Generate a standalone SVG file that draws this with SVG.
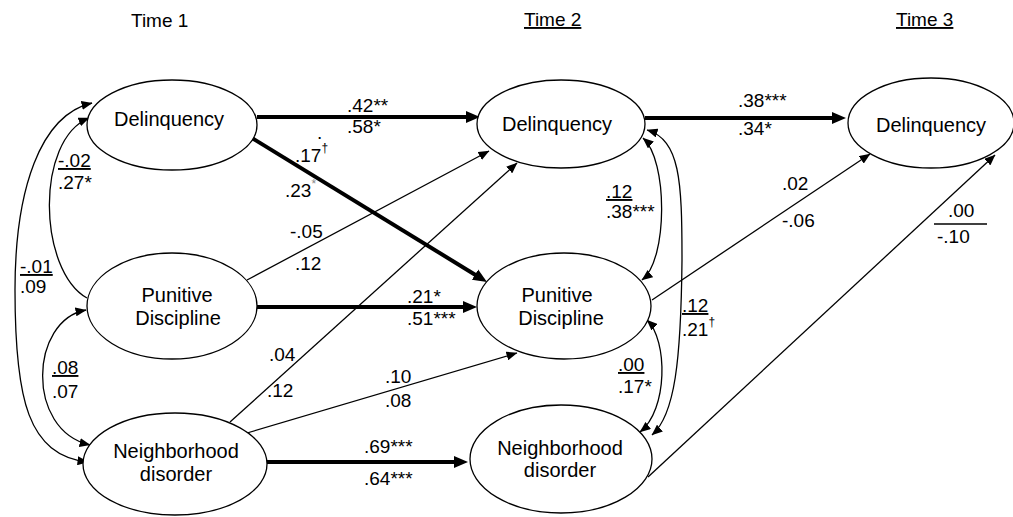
<svg xmlns="http://www.w3.org/2000/svg" width="1013" height="517" viewBox="0 0 1013 517">
<style>
  text { font-family: "Liberation Sans", Arial, sans-serif; fill: #000; }
  .node ellipse { fill: #fff; stroke: #000; stroke-width: 1.3; }
  .lbl { font-size: 20px; text-anchor: middle; }
  .num { font-size: 19px; }
  .time { font-size: 19px; }
  .ul { text-decoration: underline; }
  .sup { font-size: 12px; }
  .thin { fill: none; stroke: #000; stroke-width: 1.3; }
  .thick { fill: none; stroke: #000; stroke-width: 4; }
  .bar { stroke: #000; stroke-width: 1.3; }
</style>
<defs>
  <marker id="ahThick" markerUnits="userSpaceOnUse" viewBox="0 0 14 14" markerWidth="14" markerHeight="14" refX="1" refY="7" orient="auto">
    <path d="M0,1 L14,7 L0,13 z" fill="#000"/>
  </marker>
  <marker id="ahThin" markerUnits="userSpaceOnUse" viewBox="0 0 11 9" markerWidth="11" markerHeight="9" refX="10.5" refY="4.5" orient="auto-start-reverse">
    <path d="M0,0 L11,4.5 L0,9 z" fill="#000"/>
  </marker>
</defs>

<g id="time-labels">
  <text class="time" x="131" y="27">Time 1</text>
  <text class="time ul" x="524" y="26">Time 2</text>
  <text class="time ul" x="896" y="26">Time 3</text>
</g>

<g id="connectors">
  <!-- structural paths -->
  <line class="thick" x1="257" y1="117" x2="467" y2="117" marker-end="url(#ahThick)"/>
  <line class="thick" x1="252" y1="138" x2="475.9" y2="275.2" marker-end="url(#ahThick)"/>
  <line class="thin" x1="247" y1="280" x2="489" y2="151" marker-end="url(#ahThin)"/>
  <line class="thick" x1="257" y1="307" x2="464" y2="307" marker-end="url(#ahThick)"/>
  <line class="thin" x1="230" y1="422" x2="517" y2="163" marker-end="url(#ahThin)"/>
  <line class="thin" x1="247" y1="433" x2="517" y2="353" marker-end="url(#ahThin)"/>
  <line class="thick" x1="267" y1="462" x2="455" y2="462" marker-end="url(#ahThick)"/>
  <line class="thick" x1="645" y1="118" x2="833" y2="118" marker-end="url(#ahThick)"/>
  <line class="thin" x1="652" y1="300" x2="870" y2="154" marker-end="url(#ahThin)"/>
  <line class="thin" x1="648" y1="477" x2="995" y2="155" marker-end="url(#ahThin)"/>
  <!-- correlations -->
  <path class="thin" d="M87,298 C38,270 35,140 89,118" marker-end="url(#ahThin)"/>
  <path class="thin" d="M92,103 C40,115 15,190 15,290 C15,400 28,455 88,462" marker-start="url(#ahThin)" marker-end="url(#ahThin)"/>
  <path class="thin" d="M86,310 C30,320 25,430 90,445" marker-start="url(#ahThin)" marker-end="url(#ahThin)"/>
  <path class="thin" d="M643,138 C668,160 668,260 642,280" marker-start="url(#ahThin)" marker-end="url(#ahThin)"/>
  <path class="thin" d="M647,130 C680,140 682,180 682,260 C681,360 675,415 652,435" marker-start="url(#ahThin)" marker-end="url(#ahThin)"/>
  <path class="thin" d="M647,320 C668,340 668,410 640,432" marker-start="url(#ahThin)" marker-end="url(#ahThin)"/>
</g>

<g id="edge-labels">
  <text class="num" x="347" y="112">.42**</text>
  <text class="num" x="347" y="133">.58*</text>
  <text class="num" x="317" y="139" font-size="12">.</text>
  <text class="num" x="295" y="162">.17<tspan class="sup" dy="-10">†</tspan></text>
  <text class="num" x="285" y="197">.23<tspan class="sup" dy="-9" fill="#888">*</tspan></text>
  <text class="num" x="290" y="238">-.05</text>
  <text class="num" x="295" y="270">.12</text>
  <text class="num" x="407" y="303">.21*</text>
  <text class="num" x="407" y="325">.51***</text>
  <text class="num" x="269" y="361">.04</text>
  <text class="num" x="267" y="397">.12</text>
  <text class="num" x="385" y="383">.10</text>
  <text class="num" x="385" y="407">.08</text>
  <text class="num" x="364" y="453">.69***</text>
  <text class="num" x="364" y="485">.64***</text>
  <text class="num" x="738" y="107">.38***</text>
  <text class="num" x="738" y="135">.34*</text>
  <text class="num" x="782" y="190">.02</text>
  <text class="num" x="782" y="227">-.06</text>
  <text class="num" x="948" y="217">.00</text>
  <line class="bar" x1="934" y1="224" x2="987" y2="224"/>
  <text class="num" x="937" y="243">-.10</text>
  <text class="num ul" x="58" y="167">-.02</text>
  <text class="num" x="58" y="189">.27*</text>
  <text class="num ul" x="20" y="273">-.01</text>
  <text class="num" x="20" y="293">.09</text>
  <text class="num ul" x="52" y="374">.08</text>
  <text class="num" x="52" y="398">.07</text>
  <text class="num ul" x="606" y="198">.12</text>
  <text class="num" x="606" y="218">.38***</text>
  <text class="num ul" x="682" y="312">.12</text>
  <text class="num" x="682" y="336">.21<tspan class="sup" dy="-10">†</tspan></text>
  <text class="num ul" x="618" y="371">.00</text>
  <text class="num" x="618" y="393">.17*</text>
</g>

<g id="delinquency-t1" class="node">
  <ellipse cx="172" cy="125" rx="85" ry="45"/>
  <text class="lbl" x="169" y="126">Delinquency</text>
</g>
<g id="punitive-t1" class="node">
  <ellipse cx="172" cy="306" rx="85" ry="53"/>
  <text class="lbl" x="177" y="302">Punitive</text>
  <text class="lbl" x="178" y="325">Discipline</text>
</g>
<g id="neighborhood-t1" class="node">
  <ellipse cx="175" cy="464" rx="92" ry="51"/>
  <text class="lbl" x="176" y="458">Neighborhood</text>
  <text class="lbl" x="176" y="481">disorder</text>
</g>
<g id="delinquency-t2" class="node">
  <ellipse cx="561" cy="124" rx="84" ry="44"/>
  <text class="lbl" x="557" y="131">Delinquency</text>
</g>
<g id="punitive-t2" class="node">
  <ellipse cx="564" cy="306" rx="87" ry="53"/>
  <text class="lbl" x="557" y="302">Punitive</text>
  <text class="lbl" x="561" y="325">Discipline</text>
</g>
<g id="neighborhood-t2" class="node">
  <ellipse cx="561" cy="459" rx="91" ry="54"/>
  <text class="lbl" x="560" y="455">Neighborhood</text>
  <text class="lbl" x="560" y="477">disorder</text>
</g>
<g id="delinquency-t3" class="node">
  <ellipse cx="931" cy="123" rx="83" ry="45"/>
  <text class="lbl" x="931" y="132">Delinquency</text>
</g>
</svg>
